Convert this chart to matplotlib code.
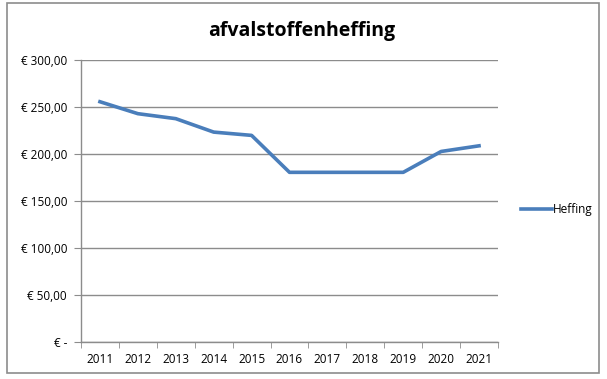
import matplotlib.pyplot as plt
from matplotlib.patches import Rectangle

years = ["2011", "2012", "2013", "2014", "2015", "2016",
         "2017", "2018", "2019", "2020", "2021"]
heffing = [255.6, 242.9, 237.6, 223.3, 219.8, 180.5,
           180.5, 180.5, 180.5, 202.7, 208.7]
yticks = [0, 50, 100, 150, 200, 250, 300]
ylabels = ["€ -", "€ 50,00", "€ 100,00", "€ 150,00",
           "€ 200,00", "€ 250,00", "€ 300,00"]

plt.rcParams['font.family'] = ['Open Sans', 'DejaVu Sans']

fig = plt.figure(figsize=(6.07, 3.79), dpi=100)

# rand om de grafiek
fig.patches.append(Rectangle((7 / 607, 1 - 373 / 379), 592 / 607, 370 / 379,
                             transform=fig.transFigure, fill=False,
                             edgecolor="#8c8c8c", linewidth=1.2))

ax = fig.add_axes([81 / 607, 1 - 342 / 379, 417 / 607, 282 / 379])

x = list(range(len(years)))
ax.plot(x, heffing, color="#4a7ebb", linewidth=2.6, label="Heffing")

ax.set_xlim(-0.5, len(years) - 0.5)
ax.set_ylim(0, 300)
ax.set_yticks(yticks)
ax.set_yticklabels(ylabels)
ax.set_xticks(x)
ax.set_xticklabels(years)
ax.set_xticks([i - 0.5 for i in range(len(years) + 1)], minor=True)

ax.grid(axis="y", color="#8c8c8c", linewidth=1)
ax.set_axisbelow(True)
for s in ["top", "right"]:
    ax.spines[s].set_visible(False)
for s in ["left", "bottom"]:
    ax.spines[s].set_color("#8c8c8c")
    ax.spines[s].set_linewidth(1)

ax.tick_params(axis="y", length=5, color="#8c8c8c", labelsize=8.5, pad=5)
ax.tick_params(axis="x", which="major", length=0, labelsize=8.5, pad=8)
ax.tick_params(axis="x", which="minor", length=4, color="#8c8c8c")

fig.text(302 / 607, 1 - 31 / 379, "afvalstoffenheffing", ha="center",
         va="center", fontsize=14, fontweight="bold")

ax.legend(loc="center left", bbox_to_anchor=(1.03, 0.47), frameon=False,
          fontsize=8.5, handlelength=2.6, handletextpad=0.1)

plt.savefig("out.png", dpi=100)
plt.close()
